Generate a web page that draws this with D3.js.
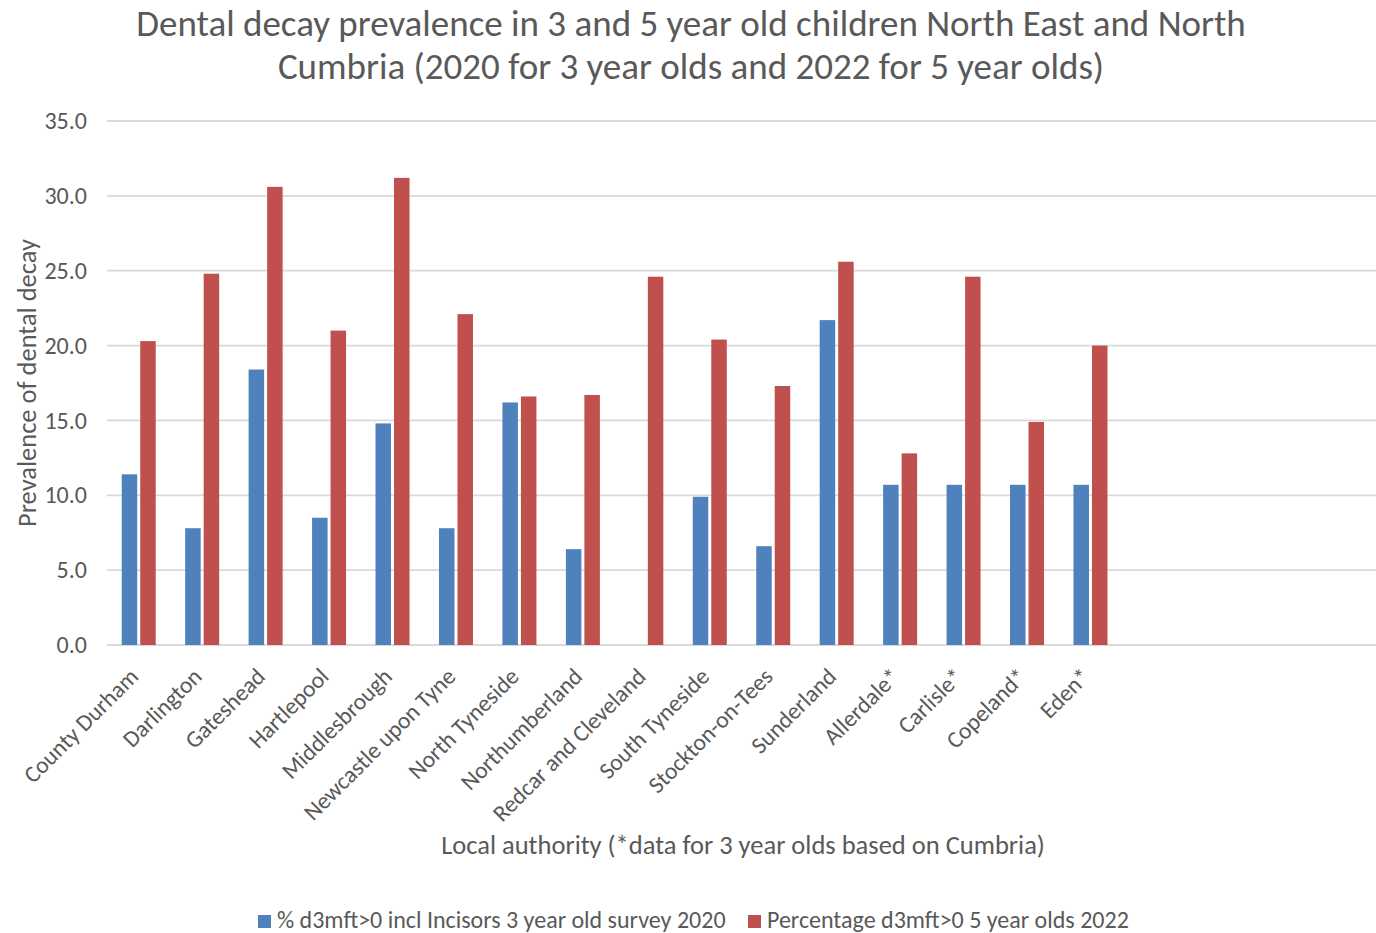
<!DOCTYPE html>
<html>
<head>
<meta charset="utf-8">
<script src="https://cdn.jsdelivr.net/npm/d3@7"></script>
<style>
  html, body { margin: 0; padding: 0; background: #fff; }
  svg { display: block; font-family: Carlito, Lato, "Open Sans", sans-serif; }
</style>
</head>
<body>
<svg id="chart" width="1376" height="933"></svg>
<script>
// ---- data ----
const titleLines = [
  "Dental decay prevalence in 3 and 5 year old children North East and North",
  "Cumbria (2020 for 3 year olds and 2022 for 5 year olds)"
];
const categories = [
  "County Durham", "Darlington", "Gateshead", "Hartlepool", "Middlesbrough",
  "Newcastle upon Tyne", "North Tyneside", "Northumberland", "Redcar and Cleveland",
  "South Tyneside", "Stockton-on-Tees", "Sunderland", "Allerdale*", "Carlisle*",
  "Copeland*", "Eden*", "", "", "", ""
];
const series3yr = [11.4, 7.8, 18.4, 8.5, 14.8, 7.8, 16.2, 6.4, null, 9.9, 6.6, 21.7, 10.7, 10.7, 10.7, 10.7, null, null, null, null];
const series5yr = [20.3, 24.8, 30.6, 21.0, 31.2, 22.1, 16.6, 16.7, 24.6, 20.4, 17.3, 25.6, 12.8, 24.6, 14.9, 20.0, null, null, null, null];
const seriesNames = ["% d3mft>0 incl Incisors 3 year old survey 2020", "Percentage d3mft>0 5 year olds 2022"];
const seriesColors = ["#4F81BD", "#C0504D"];
const yTicks = [0, 5, 10, 15, 20, 25, 30, 35];
const yTitle = "Prevalence of dental decay";
const xTitle = "Local authority (*data for 3 year olds based on Cumbria)";

// ---- layout ----
const svg = d3.select("#chart");
const M = { left: 107, right: 1376, top: 121, bottom: 645 };
const textColor = "#595959";

const x = d3.scaleBand().domain(d3.range(categories.length)).range([M.left, M.right]).paddingInner(0).paddingOuter(0);
const y = d3.scaleLinear().domain([0, 35]).range([M.bottom, M.top]);
const barW = 15.5, barGap = 3;

// gridlines
svg.append("g").selectAll("line").data(yTicks).join("line")
  .attr("x1", M.left).attr("x2", M.right)
  .attr("y1", d => y(d)).attr("y2", d => y(d))
  .attr("stroke", "#D9D9D9").attr("stroke-width", 1.8);

// y axis labels
const yAxis = d3.axisLeft(y).tickValues(yTicks).tickFormat(d3.format(".1f")).tickSize(0).tickPadding(20);
const yg = svg.append("g").attr("transform", `translate(${M.left},0)`).call(yAxis);
yg.select(".domain").remove();
yg.selectAll("text").attr("fill", textColor).style("font-size", "24px").style("font-family", "Carlito, Lato, sans-serif");

// bars
const seriesData = [series3yr, series5yr];
seriesData.forEach((vals, si) => {
  svg.append("g").selectAll("rect")
    .data(vals.map((v, i) => ({ v, i })).filter(d => d.v != null))
    .join("rect")
    .attr("x", d => x(d.i) + x.bandwidth() / 2 + (si === 0 ? -(barW + barGap / 2) : barGap / 2))
    .attr("width", barW)
    .attr("y", d => y(d.v))
    .attr("height", d => y(0) - y(d.v))
    .attr("fill", seriesColors[si]);
});

// x category labels
svg.append("g").selectAll("text")
  .data(categories.map((c, i) => ({ c, i })).filter(d => d.c))
  .join("text")
  .attr("transform", d => `translate(${x(d.i) + x.bandwidth() / 2 - 3},${M.bottom + 29}) rotate(-45)`)
  .attr("text-anchor", "end")
  .attr("dominant-baseline", "middle")
  .attr("fill", textColor)
  .style("font-size", "23.5px")
  .text(d => d.c);

// title
svg.append("text")
  .attr("x", 691).attr("y", 25)
  .attr("text-anchor", "middle").attr("fill", textColor)
  .style("font-size", "37px")
  .selectAll("tspan").data(titleLines).join("tspan")
  .attr("x", 691).attr("dy", (d, i) => i === 0 ? "0.3em" : "43px")
  .text(d => d);

// axis titles
svg.append("text")
  .attr("transform", `translate(30,${(M.top + M.bottom) / 2 + 0}) rotate(-90)`)
  .attr("text-anchor", "middle").attr("dominant-baseline", "middle")
  .attr("fill", textColor).style("font-size", "26.5px")
  .text(yTitle);

svg.append("text")
  .attr("x", 743).attr("y", 848)
  .attr("text-anchor", "middle").attr("dominant-baseline", "middle")
  .attr("fill", textColor).style("font-size", "26.5px")
  .text(xTitle);

// legend
const legendItems = [{ x: 258 }, { x: 748 }];
legendItems.forEach((li, i) => {
  const g = svg.append("g").attr("transform", `translate(${li.x},922)`);
  g.append("rect").attr("x", 0).attr("y", -7).attr("width", 13).attr("height", 13).attr("fill", seriesColors[i]);
  g.append("text").attr("x", 19).attr("y", 0).attr("dominant-baseline", "middle")
    .attr("fill", textColor).style("font-size", "24px").text(seriesNames[i]);
});
</script>
</body>
</html>
